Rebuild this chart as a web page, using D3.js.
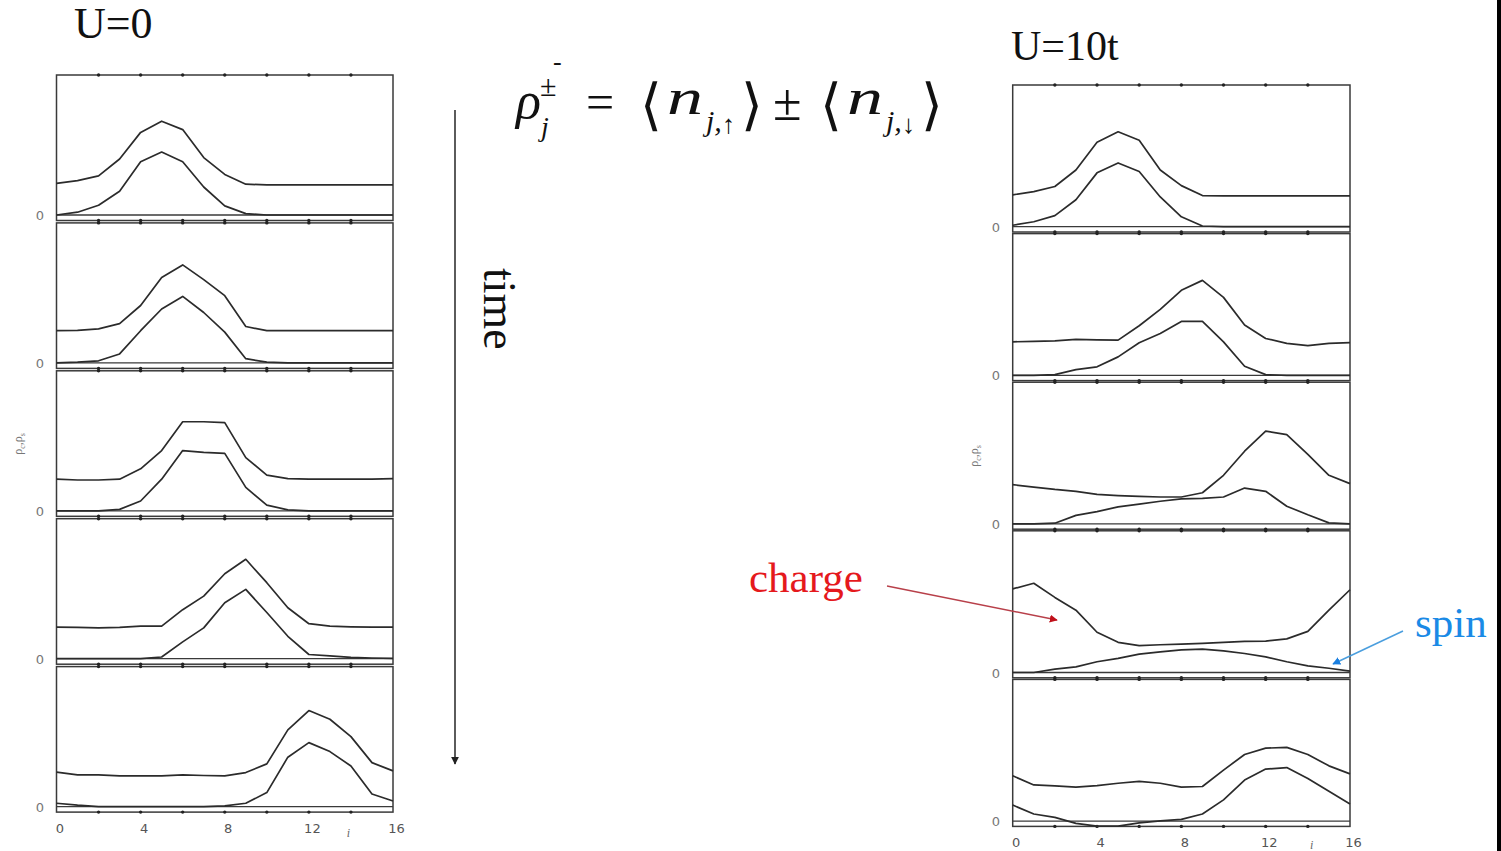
<!DOCTYPE html>
<html>
<head>
<meta charset="utf-8">
<script src="https://cdn.jsdelivr.net/npm/d3@7"></script>
<style>
  html, body { margin: 0; padding: 0; background: #fff; }
  svg { display: block; }
</style>
</head>
<body>
<svg id="chart" width="1501" height="851"></svg>
<script>
// ---------------- DATA ----------------
const sites = d3.range(0, 17);            // lattice sites j = 0..16
const xTickLabels = [0, 4, 8, 12, 16];
const dotTicks = [2, 4, 6, 8, 10, 12, 14];

// U = 0 : charge (upper curve) and spin (lower curve), five time slices
const u0Charge = [
  [0.226,0.245,0.28,0.40,0.59,0.67,0.61,0.41,0.29,0.22,0.215,0.215,0.215,0.215,0.215,0.215,0.215],
  [0.23,0.232,0.243,0.28,0.41,0.61,0.70,0.595,0.48,0.26,0.23,0.23,0.23,0.23,0.23,0.23,0.23],
  [0.226,0.22,0.22,0.226,0.30,0.43,0.636,0.636,0.63,0.38,0.255,0.23,0.226,0.226,0.226,0.226,0.23],
  [0.226,0.224,0.22,0.224,0.233,0.233,0.35,0.447,0.607,0.71,0.543,0.364,0.25,0.233,0.228,0.226,0.226],
  [0.246,0.226,0.226,0.22,0.22,0.22,0.226,0.222,0.22,0.243,0.305,0.548,0.686,0.624,0.5,0.314,0.255]
];
const u0Spin = [
  [0,0.02,0.07,0.17,0.38,0.45,0.38,0.2,0.065,0.01,0,0,0,0,0,0,0],
  [0,0.005,0.015,0.064,0.23,0.385,0.475,0.36,0.22,0.03,0.005,0,0,0,0,0,0],
  [0,0,0,0.01,0.07,0.226,0.43,0.417,0.41,0.167,0.04,0.007,0,0,0,0,0],
  [0,0,0,0,0,0.012,0.12,0.22,0.4,0.495,0.33,0.16,0.03,0.02,0.01,0.005,0.003],
  [0.024,0.01,0,0,0,0,0,0,0.005,0.024,0.1,0.353,0.457,0.393,0.29,0.09,0.04]
];

// U = 10t
const u10Charge = [
  [0.225,0.248,0.284,0.40,0.596,0.67,0.61,0.40,0.29,0.22,0.218,0.218,0.218,0.218,0.218,0.218,0.218],
  [0.236,0.24,0.243,0.253,0.25,0.248,0.35,0.465,0.60,0.67,0.55,0.355,0.26,0.225,0.21,0.225,0.23],
  [0.277,0.26,0.243,0.23,0.208,0.2,0.194,0.19,0.19,0.22,0.343,0.513,0.655,0.63,0.49,0.343,0.284],
  [0.59,0.63,0.53,0.44,0.284,0.213,0.19,0.196,0.2,0.206,0.213,0.22,0.222,0.237,0.29,0.44,0.584],
  [0.32,0.255,0.248,0.24,0.25,0.267,0.28,0.267,0.24,0.244,0.36,0.47,0.515,0.52,0.47,0.39,0.333]
];
const u10Spin = [
  [0.01,0.035,0.078,0.19,0.38,0.45,0.39,0.21,0.07,0.005,0,0,0,0,0,0,0],
  [0,0,0.005,0.04,0.06,0.13,0.23,0.295,0.38,0.38,0.236,0.064,0.005,0,0,0,0],
  [0,0,0.005,0.06,0.087,0.12,0.14,0.16,0.177,0.18,0.19,0.253,0.23,0.125,0.064,0.007,0],
  [0,0,0.024,0.04,0.076,0.1,0.13,0.146,0.16,0.165,0.153,0.134,0.11,0.076,0.047,0.03,0.01],
  [0.113,0.05,0.026,-0.016,-0.035,-0.035,-0.012,0.002,0.012,0.05,0.15,0.29,0.367,0.378,0.3,0.21,0.12]
];

// ---------------- DRAW ----------------
const svg = d3.select("#chart");
const ink = "#2b2b2b";
const serif = "'Liberation Serif', 'DejaVu Serif', serif";

function drawColumn(cfg, charge, spin) {
  const x = d3.scaleLinear().domain([0, 16]).range([cfg.x0, cfg.x1]);
  const g = svg.append("g");
  charge.forEach((c, i) => {
    const top = cfg.top0 + cfg.step * i;
    const zero = top + cfg.h;
    const bottom = zero + cfg.gap;
    const y = d3.scaleLinear().domain([0, 1]).range([zero, zero - cfg.h]);
    g.append("rect").attr("x", cfg.x0).attr("y", top)
      .attr("width", cfg.x1 - cfg.x0).attr("height", bottom - top)
      .attr("fill", "none").attr("stroke", "#3a3a3a").attr("stroke-width", 1.5);
    g.append("line").attr("x1", cfg.x0).attr("x2", cfg.x1)
      .attr("y1", y(0)).attr("y2", y(0))
      .attr("stroke", "#3a3a3a").attr("stroke-width", 1.3);
    [top, bottom].forEach(yy => {
      g.selectAll(null).data(dotTicks).enter().append("circle")
        .attr("cx", d => x(d)).attr("cy", yy).attr("r", 1.7).attr("fill", "#222");
    });
    g.append("text").attr("x", cfg.zeroX).attr("y", y(0) + 5)
      .attr("text-anchor", "middle").attr("font-family", "'DejaVu Sans', sans-serif")
      .attr("font-size", 13).attr("fill", "#777").text("0");
    const line = d3.line().x((d, k) => x(sites[k])).y(d => y(d));
    [c, spin[i]].forEach(series => {
      g.append("path").datum(series).attr("d", line)
        .attr("fill", "none").attr("stroke", ink).attr("stroke-width", 1.7)
        .attr("stroke-linejoin", "round");
    });
  });
  const lastBottom = cfg.top0 + cfg.step * 4 + cfg.h + cfg.gap;
  const axis = d3.axisBottom(x).tickValues(xTickLabels).tickSize(0).tickPadding(0);
  const ag = g.append("g").attr("transform", `translate(${cfg.labelDx},${lastBottom + cfg.labelDy})`).call(axis);
  ag.select(".domain").remove();
  ag.selectAll("text").attr("font-family", "'DejaVu Sans', sans-serif")
    .attr("font-size", 13).attr("fill", "#555").attr("dy", 0);
  g.append("text").attr("x", x(cfg.symX)).attr("y", Math.min(lastBottom + cfg.labelDy + 4, 849))
    .attr("font-family", serif).attr("font-style", "italic").attr("font-size", 12)
    .attr("fill", "#666").text("i");
  const yl = g.append("text")
    .attr("transform", `translate(${cfg.ylabX},${cfg.ylabY}) rotate(-90)`)
    .attr("text-anchor", "middle").attr("font-family", serif).attr("font-size", 12).attr("fill", "#777");
  yl.append("tspan").text("ρ");
  yl.append("tspan").attr("font-size", 8).attr("dy", 3).text("c");
  yl.append("tspan").attr("dy", -3).text(",ρ");
  yl.append("tspan").attr("font-size", 8).attr("dy", 3).text("s");
}

drawColumn({x0: 56.5, x1: 393, top0: 75, step: 147.9, h: 140, gap: 5.5,
  zeroX: 40, labelDx: 3, labelDy: 21, symX: 13.8, ylabX: 22, ylabY: 444}, u0Charge, u0Spin);
drawColumn({x0: 1012.7, x1: 1350, top0: 85, step: 148.6, h: 141.7, gap: 5.3,
  zeroX: 996, labelDx: 3, labelDy: 21, symX: 14.1, ylabX: 978, ylabY: 456}, u10Charge, u10Spin);

// titles
svg.append("text").attr("x", 74).attr("y", 38).attr("font-family", serif)
  .attr("font-size", 44).attr("fill", "#111").text("U=0");
svg.append("text").attr("x", 1011).attr("y", 60).attr("font-family", serif)
  .attr("font-size", 42).attr("fill", "#111").text("U=10t");

// formula
function ft(x, y, s, size, italic, fam) {
  return svg.append("text").attr("x", x).attr("y", y).attr("font-family", fam || serif)
    .attr("font-size", size).attr("font-style", italic ? "italic" : "normal")
    .attr("fill", "#111").text(s);
}
const dvs = "'DejaVu Serif', serif";
ft(516, 118, "ρ", 52, true);
ft(540, 96, "±", 30, false);
ft(553, 70, "-", 26, false);
ft(541, 136, "j", 28, true);
ft(586, 119, "=", 50, false);
ft(640, 124, "⟨", 56, false, dvs);
ft(667, 114, "n", 50, true).attr("textLength", 36).attr("lengthAdjust", "spacingAndGlyphs");
ft(706, 131, "j,", 30, true);
ft(722, 133, "↑", 26, false);
ft(741, 124, "⟩", 56, false, dvs);
ft(773, 120, "±", 52, false);
ft(820, 124, "⟨", 56, false, dvs);
ft(847, 114, "n", 50, true).attr("textLength", 36).attr("lengthAdjust", "spacingAndGlyphs");
ft(886, 131, "j,", 30, true);
ft(902, 133, "↓", 26, false);
ft(921, 124, "⟩", 56, false, dvs);

// markers
const defs = svg.append("defs");
function marker(id, color) {
  defs.append("marker").attr("id", id).attr("viewBox", "0 0 10 10")
    .attr("refX", 9).attr("refY", 5).attr("markerWidth", 8).attr("markerHeight", 8)
    .attr("markerUnits", "userSpaceOnUse").attr("orient", "auto")
    .append("path").attr("d", "M0,0 L10,5 L0,10 z").attr("fill", color);
}
marker("mBlack", "#222");
marker("mRed", "#c0101a");
marker("mBlue", "#1a7fe0");

// time arrow
svg.append("line").attr("x1", 455).attr("x2", 455).attr("y1", 110).attr("y2", 764)
  .attr("stroke", "#333").attr("stroke-width", 1.6).attr("marker-end", "url(#mBlack)");
svg.append("text").attr("transform", "translate(484,268) rotate(90)")
  .attr("font-family", serif).attr("font-size", 46).attr("fill", "#111").text("time");

// annotations
svg.append("text").attr("x", 749).attr("y", 592).attr("font-family", serif)
  .attr("font-size", 43).attr("fill", "#e5191d").text("charge");
svg.append("line").attr("x1", 887).attr("y1", 586).attr("x2", 1057).attr("y2", 620)
  .attr("stroke", "#b8404a").attr("stroke-width", 1.5).attr("marker-end", "url(#mRed)");
svg.append("text").attr("x", 1415).attr("y", 637).attr("font-family", serif)
  .attr("font-size", 43).attr("fill", "#1a8ae6").text("spin");
svg.append("line").attr("x1", 1403).attr("y1", 631).attr("x2", 1333).attr("y2", 664)
  .attr("stroke", "#4a9ede").attr("stroke-width", 1.5).attr("marker-end", "url(#mBlue)");

// right edge strip
svg.append("rect").attr("x", 1497).attr("y", 0).attr("width", 4).attr("height", 851).attr("fill", "#000");
</script>
</body>
</html>
